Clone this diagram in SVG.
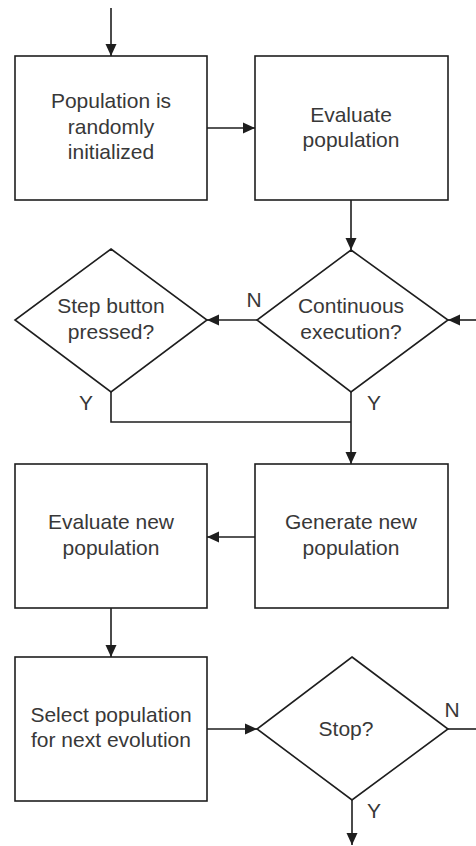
<svg xmlns="http://www.w3.org/2000/svg" width="476" height="846" viewBox="0 0 476 846">
  <style>
    .shape { fill: #ffffff; stroke: #1e1e1e; stroke-width: 1.6; }
    .wire { fill: none; stroke: #1e1e1e; stroke-width: 1.6; }
    .label { font-family: "Liberation Sans", Arial, sans-serif; font-size: 21px; fill: #383838; text-anchor: middle; }
  </style>
  <defs>
    <marker id="arrow" viewBox="0 0 12 12" refX="12" refY="6" markerWidth="12" markerHeight="12" markerUnits="userSpaceOnUse" orient="auto">
      <path d="M0,0.5 L12,6 L0,11.5 Z" fill="#1e1e1e"/>
    </marker>
  </defs>
  <rect width="476" height="846" fill="#ffffff"/>

  <g id="connectors">
    <line class="wire" x1="111" y1="8" x2="111" y2="56" marker-end="url(#arrow)"/>
    <line class="wire" x1="207" y1="128" x2="255" y2="128" marker-end="url(#arrow)"/>
    <line class="wire" x1="351" y1="200" x2="351" y2="250" marker-end="url(#arrow)"/>
    <line class="wire" x1="257" y1="320" x2="207" y2="320" marker-end="url(#arrow)"/>
    <line class="wire" x1="476" y1="320" x2="448" y2="320" marker-end="url(#arrow)"/>
    <polyline class="wire" points="111,392 111,422 351,422"/>
    <line class="wire" x1="351" y1="392" x2="351" y2="464" marker-end="url(#arrow)"/>
    <line class="wire" x1="255" y1="537" x2="207" y2="537" marker-end="url(#arrow)"/>
    <line class="wire" x1="111" y1="608" x2="111" y2="657" marker-end="url(#arrow)"/>
    <line class="wire" x1="207" y1="729" x2="257" y2="729" marker-end="url(#arrow)"/>
    <line class="wire" x1="448" y1="729" x2="476" y2="729"/>
    <line class="wire" x1="352" y1="800" x2="352" y2="845" marker-end="url(#arrow)"/>
    <text class="label" x="254" y="307">N</text>
    <text class="label" x="86" y="410">Y</text>
    <text class="label" x="374" y="410">Y</text>
    <text class="label" x="452" y="717">N</text>
    <text class="label" x="374" y="818">Y</text>
  </g>

  <g id="init">
    <rect class="shape" x="15" y="56" width="192" height="144"/>
    <text class="label" x="111" y="108">Population is</text>
    <text class="label" x="111" y="133.5">randomly</text>
    <text class="label" x="111" y="159">initialized</text>
  </g>

  <g id="evaluate">
    <rect class="shape" x="255" y="56" width="193" height="144"/>
    <text class="label" x="351" y="122">Evaluate</text>
    <text class="label" x="351" y="147">population</text>
  </g>

  <g id="continuous">
    <polygon class="shape" points="351,250 448,320 351,392 257,320"/>
    <text class="label" x="351" y="313">Continuous</text>
    <text class="label" x="351" y="339">execution?</text>
  </g>

  <g id="step">
    <polygon class="shape" points="111,249 207,320 111,392 15,320"/>
    <text class="label" x="111" y="313">Step button</text>
    <text class="label" x="111" y="339">pressed?</text>
  </g>

  <g id="generate">
    <rect class="shape" x="255" y="464" width="193" height="144"/>
    <text class="label" x="351" y="529">Generate new</text>
    <text class="label" x="351" y="555">population</text>
  </g>

  <g id="evaluate-new">
    <rect class="shape" x="15" y="464" width="192" height="144"/>
    <text class="label" x="111" y="529">Evaluate new</text>
    <text class="label" x="111" y="555">population</text>
  </g>

  <g id="select">
    <rect class="shape" x="15" y="657" width="192" height="144"/>
    <text class="label" x="111" y="722">Select population</text>
    <text class="label" x="111" y="747">for next evolution</text>
  </g>

  <g id="stop">
    <polygon class="shape" points="352,657 448,729 352,800 257,729"/>
    <text class="label" x="346" y="736">Stop?</text>
  </g>
</svg>
